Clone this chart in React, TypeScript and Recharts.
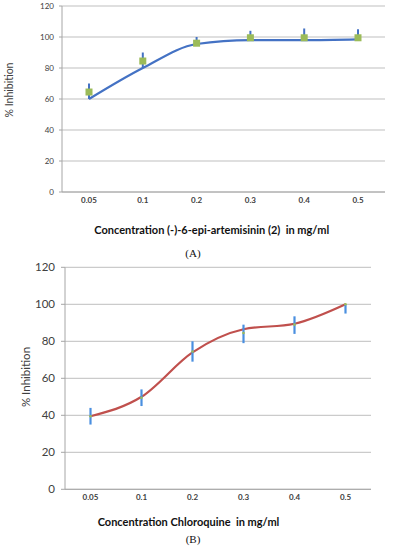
import React from "react";
import { LineChart, Line, XAxis, YAxis, CartesianGrid, ErrorBar } from "recharts";

const concentrations = ["0.05", "0.1", "0.2", "0.3", "0.4", "0.5"];
const yTicks = [0, 20, 40, 60, 80, 100, 120];

// (A) (-)-6-epi-artemisinin
const fitA = [60, 80, 95.5, 98, 98, 98.5];
const meanA = [64.5, 84.5, 96, 99.5, 99.5, 99.5];
const errLowA = [4.5, 4.5, 0, 0, 0, 0];
const errHighA = [5.5, 5.5, 4, 4.5, 6, 5.5];

// (B) Chloroquine
const fitB = [39.5, 50, 74, 86.5, 89.5, 100];
const meanB = [39.5, 49.5, 74.5, 84.5, 89, 100];
const errLowB = [4.5, 4.5, 5.5, 5.5, 5, 5];
const errHighB = [4.5, 4.5, 5.5, 4.5, 4.5, 0];

const dataA = concentrations.map((c, i) => ({
  conc: c,
  fit: fitA[i],
  mean: meanA[i],
  err: [errLowA[i], errHighA[i]],
}));

const dataB = concentrations.map((c, i) => ({
  conc: c,
  fit: fitB[i],
  mean: meanB[i],
  err: [errLowB[i], errHighB[i]],
}));

const FONT = "Lato, 'Liberation Sans', sans-serif";
const GRID = "#bfbfbf";
const AXIS = "#a6a6a6";

function SquareDot(props: any) {
  const { cx, cy } = props;
  if (cx == null || cy == null) return null;
  return <rect x={cx - 3.5} y={cy - 3.5} width={7} height={7} fill="#9bbb59" />;
}

function TinyDot(props: any) {
  const { cx, cy } = props;
  if (cx == null || cy == null) return null;
  return <circle cx={cx} cy={cy} r={1.3} fill="#9bbb59" />;
}

const abs = (style: React.CSSProperties): React.CSSProperties => ({ position: "absolute", ...style });

export default function App() {
  return (
    <div style={abs({ left: 0, top: 0, width: 396, height: 550, background: "#fff", fontFamily: FONT })}>
      {/* Chart A */}
      <div style={abs({ left: 0, top: 0 })}>
        <LineChart width={396} height={215} data={dataA} margin={{ top: 6, right: 11, bottom: 3, left: 0 }}>
          <CartesianGrid vertical={false} stroke={GRID} strokeWidth={1} />
          <XAxis
            dataKey="conc"
            scale="point"
            padding={{ left: 27, right: 27 }}
            height={20}
            stroke={AXIS}
            tickLine={false}
            tickSize={4}
            tickMargin={1}
            tick={{ fontSize: 8, fontWeight: 700, fill: "#404040", fontFamily: FONT }}
          />
          <YAxis
            domain={[0, 120]}
            ticks={yTicks}
            width={62}
            stroke={AXIS}
            tickSize={3}
            tickMargin={5}
            tick={{ fontSize: 8, fill: "#404040", fontFamily: FONT }}
          />
          <Line
            dataKey="fit"
            type="monotone"
            stroke="#4472c4"
            strokeWidth={2.2}
            dot={false}
            isAnimationActive={false}
          />
          <Line
            dataKey="mean"
            stroke="none"
            dot={<SquareDot />}
            activeDot={false}
            isAnimationActive={false}
          >
            <ErrorBar dataKey="err" direction="y" width={0} stroke="#4472c4" strokeWidth={2} />
          </Line>
        </LineChart>
      </div>
      <div style={abs({ left: 3, top: 84, width: 12, height: 12 })}>
        <div
          style={abs({
            left: 6,
            top: 6,
            transform: "translate(-50%, -50%) rotate(-90deg)",
            whiteSpace: "nowrap",
            fontSize: 10.5,
            color: "#404040",
          })}
        >
          % Inhibition
        </div>
      </div>
      <div
        style={abs({
          left: 211.7,
          top: 229.3,
          transform: "translate(-50%, -50%)",
          whiteSpace: "nowrap",
          fontSize: 11,
          fontWeight: 700,
          color: "#111",
        })}
      >
        Concentration (-)-6-epi-artemisinin (2)&nbsp; in mg/ml
      </div>
      <div
        style={abs({
          left: 193,
          top: 253,
          transform: "translate(-50%, -50%)",
          fontFamily: "'Liberation Serif', serif",
          fontSize: 11,
          color: "#111",
        })}
      >
        (A)
      </div>

      {/* Chart B */}
      <div style={abs({ left: 0, top: 250 })}>
        <LineChart width={396} height={260} data={dataB} margin={{ top: 17.3, right: 25, bottom: 2.7, left: 0 }}>
          <CartesianGrid vertical={false} stroke={GRID} strokeWidth={1} />
          <XAxis
            dataKey="conc"
            scale="point"
            padding={{ left: 25.5, right: 25.5 }}
            height={18}
            stroke={AXIS}
            tickLine={false}
            tickSize={4}
            tickMargin={1}
            tick={{ fontSize: 8, fontWeight: 700, fill: "#404040", fontFamily: FONT }}
          />
          <YAxis
            domain={[0, 120]}
            ticks={yTicks}
            width={65}
            stroke={AXIS}
            tickSize={4}
            tickMargin={6}
            tick={{ fontSize: 11.5, fill: "#404040", fontFamily: FONT }}
          />
          <Line
            dataKey="fit"
            type="monotone"
            stroke="#c0504d"
            strokeWidth={2.2}
            dot={false}
            isAnimationActive={false}
          />
          <Line
            dataKey="mean"
            stroke="none"
            dot={<TinyDot />}
            activeDot={false}
            isAnimationActive={false}
          >
            <ErrorBar dataKey="err" direction="y" width={0} stroke="#4a8fe0" strokeWidth={2.2} />
          </Line>
        </LineChart>
      </div>
      <div style={abs({ left: 19, top: 371, width: 12, height: 12 })}>
        <div
          style={abs({
            left: 6,
            top: 6,
            transform: "translate(-50%, -50%) rotate(-90deg)",
            whiteSpace: "nowrap",
            fontSize: 11.5,
            color: "#404040",
          })}
        >
          % Inhibition
        </div>
      </div>
      <div
        style={abs({
          left: 188.5,
          top: 520.7,
          transform: "translate(-50%, -50%)",
          whiteSpace: "nowrap",
          fontSize: 11,
          fontWeight: 700,
          color: "#111",
        })}
      >
        Concentration Chloroquine&nbsp; in mg/ml
      </div>
      <div
        style={abs({
          left: 193,
          top: 539,
          transform: "translate(-50%, -50%)",
          fontFamily: "'Liberation Serif', serif",
          fontSize: 11,
          color: "#111",
        })}
      >
        (B)
      </div>
    </div>
  );
}
